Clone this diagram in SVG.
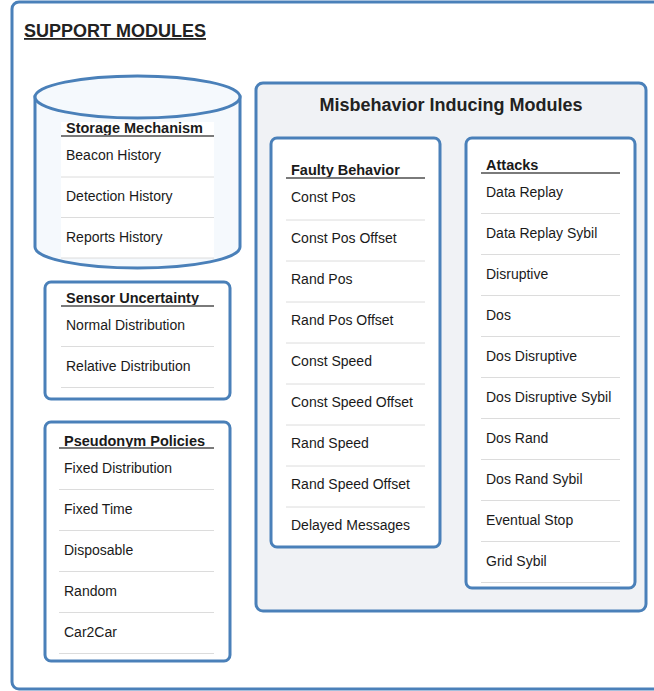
<svg xmlns="http://www.w3.org/2000/svg" width="654" height="691" viewBox="0 0 654 691">
<style>
.box{fill:#ffffff;stroke:#4a80b9;stroke-width:3}
.grp{fill:#f0f2f5;stroke:#4a80b9;stroke-width:3}
.cyl{fill:#f5f9fd;stroke:#4a80b9;stroke-width:3}
.hd{font-family:"Liberation Sans",Arial,sans-serif;font-weight:bold;font-size:14.5px;fill:#1a1a1a}
.it{font-family:"Liberation Sans",Arial,sans-serif;font-size:14px;fill:#1a1a1a}
.ul{stroke:#7a7a7a;stroke-width:2}
.sep{stroke:#dcdcdc;stroke-width:1}
.ttl{font-family:"Liberation Sans",Arial,sans-serif;font-weight:bold;font-size:18px;fill:#222}
</style>
<rect width="654" height="691" fill="#ffffff"/>
<g id="support-modules">
<rect x="12" y="2" width="660" height="687" rx="7" class="box"/>
<text x="24" y="37" class="ttl" font-size="18.4px" text-decoration="underline">SUPPORT MODULES</text>
</g>
<g id="storage-mechanism">
<path d="M35,97 L35,247 A102.5,21 0 0 0 240,247 L240,97 Z" class="cyl"/>
<ellipse cx="137.5" cy="97" rx="102.5" ry="21" class="cyl"/>
<rect x="61" y="122" width="153" height="136" fill="#ffffff"/>
<text x="66" y="133" class="hd">Storage Mechanism</text>
<line x1="61" y1="136" x2="214" y2="136" class="ul"/>
<text x="66" y="160" class="it">Beacon History</text>
<line x1="61" y1="177" x2="214" y2="177" class="sep"/>
<text x="66" y="201" class="it">Detection History</text>
<line x1="61" y1="217.5" x2="214" y2="217.5" class="sep"/>
<text x="66" y="242" class="it">Reports History</text>
<line x1="61" y1="258" x2="214" y2="258" class="sep"/>
</g>
<g id="sensor-uncertainty">
<rect x="45" y="282" width="185" height="117" rx="6" class="box"/>
<text x="66" y="303" class="hd">Sensor Uncertainty</text>
<line x1="61" y1="306" x2="214" y2="306" class="ul"/>
<text x="66" y="330" class="it">Normal Distribution</text>
<line x1="61" y1="346.5" x2="214" y2="346.5" class="sep"/>
<text x="66" y="371" class="it">Relative Distribution</text>
<line x1="61" y1="387.5" x2="214" y2="387.5" class="sep"/>
</g>
<g id="pseudonym-policies">
<rect x="45" y="422" width="185" height="239" rx="6" class="box"/>
<text x="64" y="446" class="hd">Pseudonym Policies</text>
<line x1="59" y1="448" x2="214" y2="448" class="ul"/>
<text x="64" y="473" class="it">Fixed Distribution</text>
<line x1="59" y1="489.5" x2="214" y2="489.5" class="sep"/>
<text x="64" y="514" class="it">Fixed Time</text>
<line x1="59" y1="530.5" x2="214" y2="530.5" class="sep"/>
<text x="64" y="555" class="it">Disposable</text>
<line x1="59" y1="571.5" x2="214" y2="571.5" class="sep"/>
<text x="64" y="596" class="it">Random</text>
<line x1="59" y1="612.5" x2="214" y2="612.5" class="sep"/>
<text x="64" y="637" class="it">Car2Car</text>
<line x1="59" y1="653.5" x2="214" y2="653.5" class="sep"/>
</g>
<g id="misbehavior-inducing-modules">
<rect x="256" y="83" width="390" height="528" rx="7" class="grp"/>
<text x="451" y="111" class="ttl" text-anchor="middle" fill="#333">Misbehavior Inducing Modules</text>
</g>
<g id="faulty-behavior">
<rect x="271" y="138" width="169" height="409" rx="6" class="box"/>
<text x="291" y="175" class="hd">Faulty Behavior</text>
<line x1="286" y1="178" x2="425" y2="178" class="ul"/>
<text x="291" y="202" class="it">Const Pos</text>
<line x1="286" y1="220" x2="425" y2="220" class="sep"/>
<text x="291" y="243" class="it">Const Pos Offset</text>
<line x1="286" y1="261" x2="425" y2="261" class="sep"/>
<text x="291" y="284" class="it">Rand Pos</text>
<line x1="286" y1="302" x2="425" y2="302" class="sep"/>
<text x="291" y="325" class="it">Rand Pos Offset</text>
<line x1="286" y1="343" x2="425" y2="343" class="sep"/>
<text x="291" y="366" class="it">Const Speed</text>
<line x1="286" y1="384" x2="425" y2="384" class="sep"/>
<text x="291" y="407" class="it">Const Speed Offset</text>
<line x1="286" y1="425" x2="425" y2="425" class="sep"/>
<text x="291" y="448" class="it">Rand Speed</text>
<line x1="286" y1="466" x2="425" y2="466" class="sep"/>
<text x="291" y="489" class="it">Rand Speed Offset</text>
<line x1="286" y1="507" x2="425" y2="507" class="sep"/>
<text x="291" y="530" class="it">Delayed Messages</text>
</g>
<g id="attacks">
<rect x="466" y="138" width="169" height="450" rx="6" class="box"/>
<text x="486" y="170" class="hd">Attacks</text>
<line x1="481" y1="173" x2="620" y2="173" class="ul"/>
<text x="486" y="197" class="it">Data Replay</text>
<line x1="481" y1="213.5" x2="620" y2="213.5" class="sep"/>
<text x="486" y="238" class="it">Data Replay Sybil</text>
<line x1="481" y1="254.5" x2="620" y2="254.5" class="sep"/>
<text x="486" y="279" class="it">Disruptive</text>
<line x1="481" y1="295.5" x2="620" y2="295.5" class="sep"/>
<text x="486" y="320" class="it">Dos</text>
<line x1="481" y1="336.5" x2="620" y2="336.5" class="sep"/>
<text x="486" y="361" class="it">Dos Disruptive</text>
<line x1="481" y1="377.5" x2="620" y2="377.5" class="sep"/>
<text x="486" y="402" class="it">Dos Disruptive Sybil</text>
<line x1="481" y1="418.5" x2="620" y2="418.5" class="sep"/>
<text x="486" y="443" class="it">Dos Rand</text>
<line x1="481" y1="459.5" x2="620" y2="459.5" class="sep"/>
<text x="486" y="484" class="it">Dos Rand Sybil</text>
<line x1="481" y1="500.5" x2="620" y2="500.5" class="sep"/>
<text x="486" y="525" class="it">Eventual Stop</text>
<line x1="481" y1="541.5" x2="620" y2="541.5" class="sep"/>
<text x="486" y="566" class="it">Grid Sybil</text>
<line x1="481" y1="582.5" x2="620" y2="582.5" class="sep"/>
</g>
<g id="connectors"></g>
</svg>
